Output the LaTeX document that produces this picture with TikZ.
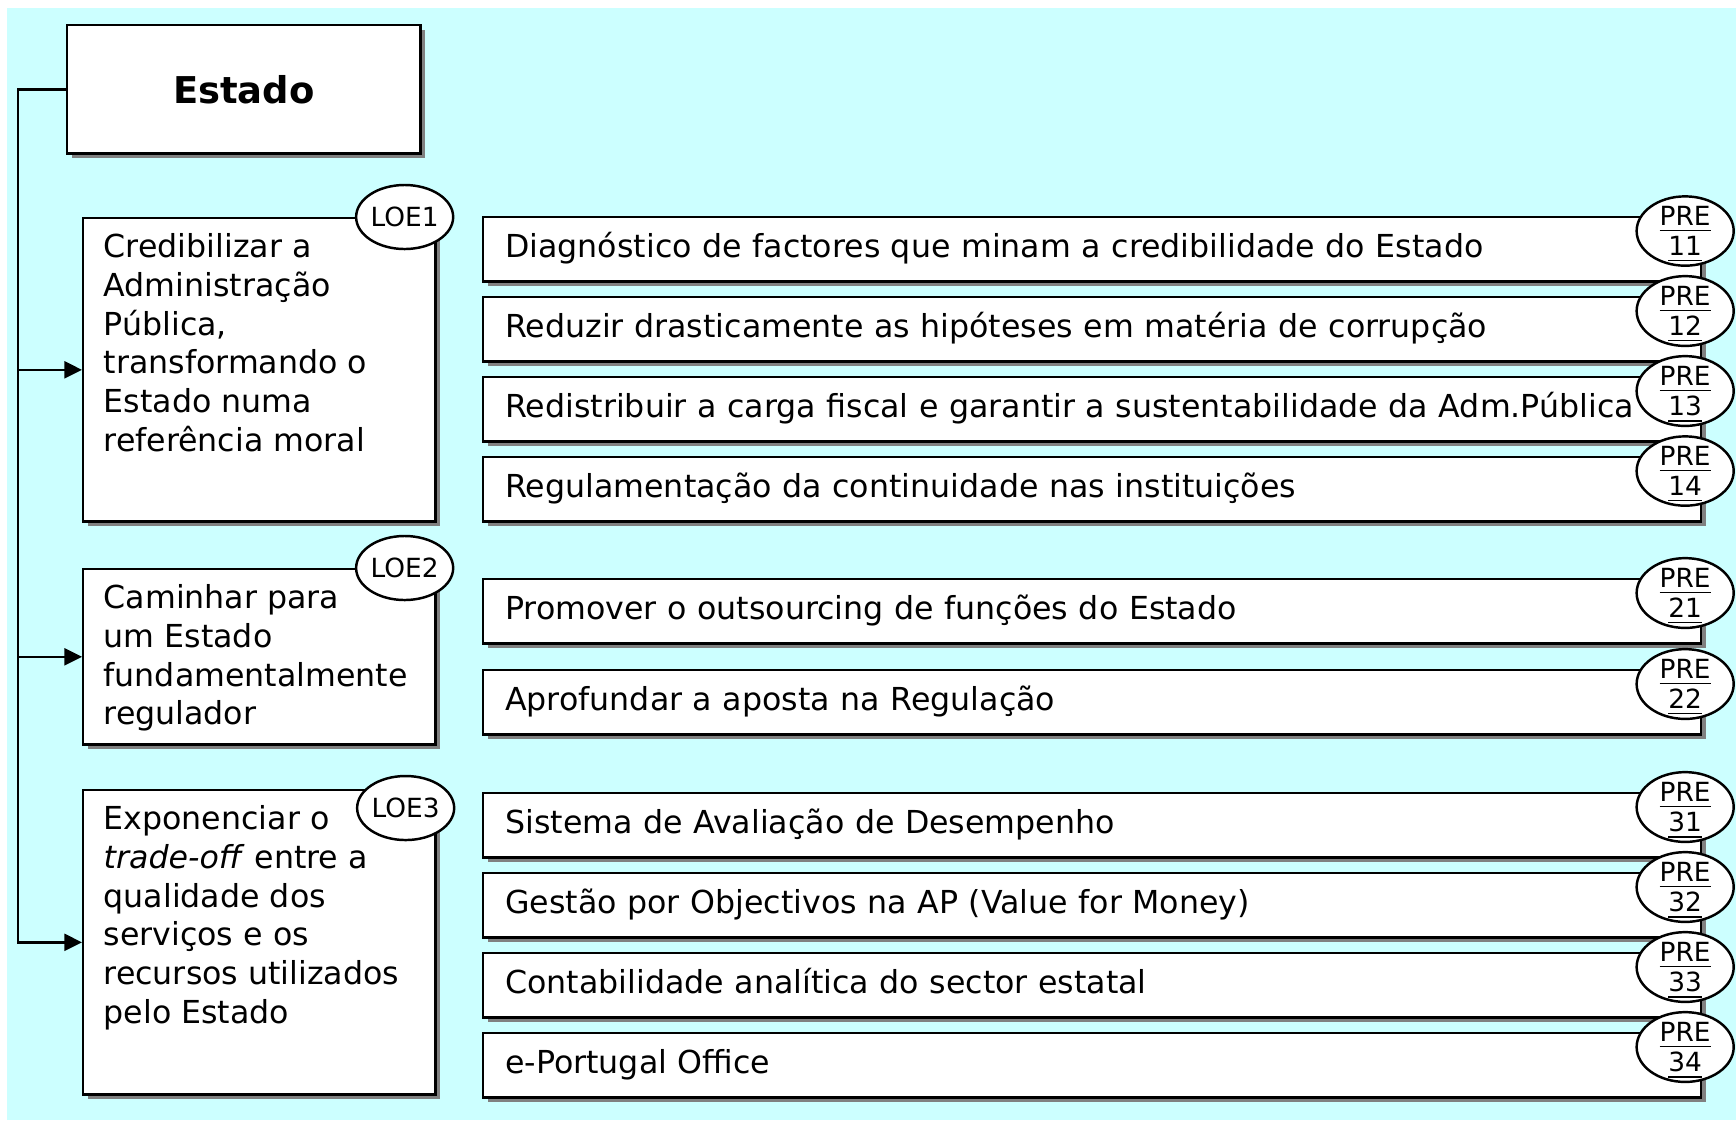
\documentclass[tikz,border=0pt]{standalone}
\usepackage{fontspec}
\setmainfont{DejaVu Sans}
\usetikzlibrary{arrows.meta,shapes.geometric,shadows}

\definecolor{bgcyan}{HTML}{CCFFFF}
\definecolor{shadowgray}{HTML}{808080}

\tikzset{
	shadowed/.style={draw, line width=0.7pt, fill=white,
		drop shadow={shadow xshift=1.4pt, shadow yshift=-1.4pt, fill=shadowgray, opacity=1}},
	topbox/.style={shadowed, anchor=north west, minimum width=3.53cm, minimum height=1.28cm,
		inner sep=0pt, font=\fontsize{10.5}{12}\selectfont\bfseries},
	loebox/.style={shadowed, anchor=north west, minimum width=3.52cm, inner sep=0pt},
	loetext/.style={anchor=north west, align=left, inner sep=0pt, font=\fontsize{9}{11}\selectfont},
	prebox/.style={shadowed, anchor=north west, text width=11.73cm, inner xsep=0.22cm, inner ysep=0pt,
		minimum height=0.64cm, align=left, text height=6.6pt, text depth=2pt, font=\fontsize{9}{11}\selectfont},
	tag/.style={draw, line width=0.7pt, fill=white, ellipse, minimum width=0.97cm, minimum height=0.64cm,
		inner sep=0pt, align=center, font=\fontsize{7.5}{6.8}\selectfont},
	pretag/.style={tag, text depth=0pt},
	link/.style={line width=0.7pt, -{Triangle[length=5pt, width=4.8pt]}}
}

\begin{document}
\begin{tikzpicture}[x=0.01cm, y=-0.01cm]
		\useasboundingbox (0,0) rectangle (1736,1120);
		\fill[bgcyan] (7,8) rectangle (1736,1120);

		\node[topbox] (estado) at (66,24) {Estado};

		% objectivos
		\node[loebox, minimum height=3.03cm] (loe1) at (82,217) {};
		\node[loetext] (loe1txt) at ([xshift=0.21cm, yshift=-0.16cm]loe1.north west)
			{Credibilizar a\\Administração\\Pública,\\transformando o\\Estado numa\\referência moral};
		\node[tag] (loe1tag) at ([xshift=-0.32cm]loe1.north east) {LOE1};

		\node[loebox, minimum height=1.75cm] (loe2) at (82,568) {};
		\node[loetext] (loe2txt) at ([xshift=0.21cm, yshift=-0.16cm]loe2.north west)
			{Caminhar para\\um Estado\\fundamentalmente\\regulador};
		\node[tag] (loe2tag) at ([xshift=-0.32cm]loe2.north east) {LOE2};

		\node[loebox, minimum height=3.04cm] (loe3) at (82,789) {};
		\node[loetext] (loe3txt) at ([xshift=0.21cm, yshift=-0.16cm]loe3.north west)
			{Exponenciar o\\\textit{trade-off} entre a\\qualidade dos\\serviços e os\\recursos utilizados\\pelo Estado};
		\node[tag] (loe3tag) at ([xshift=-0.31cm, yshift=-0.19cm]loe3.north east) {LOE3};

		\coordinate (trunk) at ([xshift=-0.48cm]estado.west);
		\draw[link] (estado.west) -- (trunk) |- (loe3.west);
		\draw[link] (trunk |- loe1.west) -- (loe1.west);
		\draw[link] (trunk |- loe2.west) -- (loe2.west);

		% projectos
		\foreach \id/\top/\txt in {
				11/216/Diagnóstico de factores que minam a credibilidade do Estado,
				12/296/Reduzir drasticamente as hipóteses em matéria de corrupção,
				13/376/Redistribuir a carga fiscal e garantir a sustentabilidade da Adm.Pública,
				14/456/Regulamentação da continuidade nas instituições,
				21/578/Promover o outsourcing de funções do Estado,
				22/669/Aprofundar a aposta na Regulação,
				31/792/Sistema de Avaliação de Desempenho,
				32/872/Gestão por Objectivos na AP (Value for Money),
				33/952/Contabilidade analítica do sector estatal,
				34/1032/e-Portugal Office}{
			\node[prebox] (pre\id) at (482,\top) {\txt};
			\node[pretag] (pre\id tag) at ([xshift=-0.17cm, yshift=-0.15cm]pre\id.north east)
				{\underline{PRE}\\\underline{\id}};
		}
	\end{tikzpicture}
\end{document}
